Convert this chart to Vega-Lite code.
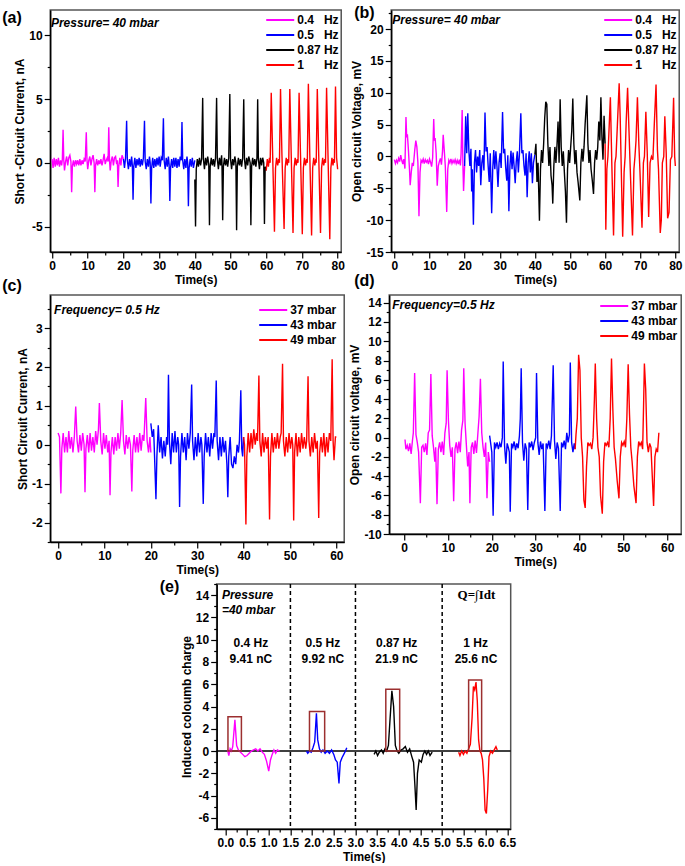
{
"$schema":"https://vega.github.io/schema/vega-lite/v6.json",
"padding":{"left":1,"top":4,"right":0,"bottom":0},
"background":"white",
"config":{
"font":"Liberation Sans",
"view":{"stroke":"#555555","strokeWidth":1.5},
"axis":{"labelFont":"Liberation Sans","labelFontSize":12,"labelFontWeight":"bold","labelColor":"black","titleFont":"Liberation Sans","titleFontSize":12,"titleFontWeight":"bold","titleColor":"black","domainColor":"black","domainWidth":1.5,"tickColor":"black","tickWidth":1.2,"grid":false,"labelPadding":2,"titlePadding":2,"labelFlush":false,"labelOverlap":false},
"legend":{"labelFont":"Liberation Sans","labelFontSize":12,"labelFontWeight":"bold","labelColor":"black","symbolType":"M-2,0H2","symbolStrokeWidth":2,"symbolSize":196,"rowPadding":1,"labelOffset":9,"padding":0},
"title":{"font":"Liberation Sans","fontSize":16,"fontWeight":"bold","color":"black","anchor":"start","frame":"group","offset":0,"baseline":"alphabetic"},
"text":{"font":"Liberation Sans","fontSize":12,"fontWeight":"bold","color":"black"}
},
"datasets":{
"a":[
{"t":0,"v":0.3,"s":"0.4"},{"t":0.3,"v":-0.4,"s":"0.4"},{"t":0.6,"v":0.4,"s":"0.4"},{"t":0.9,"v":-0.3,"s":"0.4"},{"t":1.2,"v":0.3,"s":"0.4"},{"t":1.5,"v":-0.2,"s":"0.4"},{"t":1.8,"v":0.4,"s":"0.4"},{"t":2.1,"v":-0.3,"s":"0.4"},{"t":2.4,"v":0.2,"s":"0.4"},{"t":2.7,"v":-0.2,"s":"0.4"},{"t":2.9,"v":0.3,"s":"0.4"},{"t":3.1,"v":2.6,"s":"0.4"},{"t":3.3,"v":0.2,"s":"0.4"},{"t":3.5,"v":-0.6,"s":"0.4"},{"t":3.8,"v":0.1,"s":"0.4"},{"t":4.1,"v":0.5,"s":"0.4"},{"t":4.4,"v":-0.2,"s":"0.4"},{"t":4.7,"v":0.4,"s":"0.4"},{"t":5.0,"v":0.6,"s":"0.4"},{"t":5.3,"v":0.1,"s":"0.4"},{"t":5.5,"v":-2.3,"s":"0.4"},{"t":5.7,"v":-0.3,"s":"0.4"},{"t":6.0,"v":0.2,"s":"0.4"},{"t":6.3,"v":-0.3,"s":"0.4"},{"t":6.6,"v":0.2,"s":"0.4"},{"t":6.9,"v":-0.1,"s":"0.4"},{"t":7.2,"v":0.2,"s":"0.4"},{"t":7.5,"v":-0.2,"s":"0.4"},{"t":7.8,"v":0.3,"s":"0.4"},{"t":8.1,"v":-0.2,"s":"0.4"},{"t":8.4,"v":0.2,"s":"0.4"},{"t":8.7,"v":-0.1,"s":"0.4"},{"t":9.0,"v":0.3,"s":"0.4"},{"t":9.3,"v":0.1,"s":"0.4"},{"t":9.6,"v":2.4,"s":"0.4"},{"t":9.8,"v":0.2,"s":"0.4"},{"t":10.0,"v":-0.5,"s":"0.4"},{"t":10.3,"v":0.2,"s":"0.4"},{"t":10.6,"v":0.5,"s":"0.4"},{"t":10.9,"v":-0.2,"s":"0.4"},{"t":11.2,"v":0.3,"s":"0.4"},{"t":11.5,"v":0.6,"s":"0.4"},{"t":11.8,"v":0.0,"s":"0.4"},{"t":12.0,"v":-2.3,"s":"0.4"},{"t":12.2,"v":-0.2,"s":"0.4"},{"t":12.5,"v":0.3,"s":"0.4"},{"t":12.8,"v":-0.2,"s":"0.4"},{"t":13.1,"v":0.2,"s":"0.4"},{"t":13.4,"v":-0.1,"s":"0.4"},{"t":13.7,"v":0.3,"s":"0.4"},{"t":14.0,"v":-0.2,"s":"0.4"},{"t":14.3,"v":0.2,"s":"0.4"},{"t":14.6,"v":0.7,"s":"0.4"},{"t":14.9,"v":-0.1,"s":"0.4"},{"t":15.2,"v":0.2,"s":"0.4"},{"t":15.5,"v":0.4,"s":"0.4"},{"t":15.7,"v":0.1,"s":"0.4"},{"t":15.9,"v":2.8,"s":"0.4"},{"t":16.1,"v":0.2,"s":"0.4"},{"t":16.3,"v":-0.6,"s":"0.4"},{"t":16.6,"v":0.2,"s":"0.4"},{"t":16.9,"v":0.5,"s":"0.4"},{"t":17.2,"v":-0.2,"s":"0.4"},{"t":17.5,"v":0.4,"s":"0.4"},{"t":17.8,"v":0.5,"s":"0.4"},{"t":18.1,"v":-0.1,"s":"0.4"},{"t":18.3,"v":0.2,"s":"0.4"},{"t":18.5,"v":-1.9,"s":"0.4"},{"t":18.7,"v":-0.3,"s":"0.4"},{"t":19.0,"v":0.4,"s":"0.4"},{"t":19.3,"v":-0.2,"s":"0.4"},{"t":19.6,"v":0.6,"s":"0.4"},{"t":20.0,"v":0.3,"s":"0.4"},
{"t":20.0,"v":0.3,"s":"0.5"},{"t":20.3,"v":-0.4,"s":"0.5"},{"t":20.6,"v":0.4,"s":"0.5"},{"t":20.9,"v":3.3,"s":"0.5"},{"t":21.1,"v":0.2,"s":"0.5"},{"t":21.4,"v":-0.5,"s":"0.5"},{"t":21.7,"v":0.3,"s":"0.5"},{"t":22.0,"v":-0.3,"s":"0.5"},{"t":22.3,"v":0.5,"s":"0.5"},{"t":22.5,"v":-0.2,"s":"0.5"},{"t":22.7,"v":-2.9,"s":"0.5"},{"t":22.9,"v":-0.3,"s":"0.5"},{"t":23.2,"v":0.4,"s":"0.5"},{"t":23.5,"v":-0.4,"s":"0.5"},{"t":23.8,"v":0.3,"s":"0.5"},{"t":24.1,"v":-0.2,"s":"0.5"},{"t":24.4,"v":0.4,"s":"0.5"},{"t":24.7,"v":-0.3,"s":"0.5"},{"t":25.0,"v":0.3,"s":"0.5"},{"t":25.3,"v":-0.2,"s":"0.5"},{"t":25.6,"v":0.4,"s":"0.5"},{"t":25.9,"v":3.3,"s":"0.5"},{"t":26.1,"v":0.1,"s":"0.5"},{"t":26.4,"v":-0.5,"s":"0.5"},{"t":26.7,"v":0.3,"s":"0.5"},{"t":27.0,"v":-0.3,"s":"0.5"},{"t":27.3,"v":0.5,"s":"0.5"},{"t":27.5,"v":0.0,"s":"0.5"},{"t":27.7,"v":-3.2,"s":"0.5"},{"t":27.9,"v":-0.4,"s":"0.5"},{"t":28.2,"v":0.4,"s":"0.5"},{"t":28.5,"v":-0.4,"s":"0.5"},{"t":28.8,"v":0.3,"s":"0.5"},{"t":29.1,"v":-0.3,"s":"0.5"},{"t":29.4,"v":0.4,"s":"0.5"},{"t":29.7,"v":-0.2,"s":"0.5"},{"t":30.0,"v":0.5,"s":"0.5"},{"t":30.3,"v":-0.3,"s":"0.5"},{"t":30.6,"v":0.4,"s":"0.5"},{"t":30.9,"v":0.2,"s":"0.5"},{"t":31.2,"v":3.5,"s":"0.5"},{"t":31.4,"v":0.2,"s":"0.5"},{"t":31.7,"v":-0.5,"s":"0.5"},{"t":32.0,"v":0.4,"s":"0.5"},{"t":32.3,"v":-0.3,"s":"0.5"},{"t":32.6,"v":0.5,"s":"0.5"},{"t":32.8,"v":-0.1,"s":"0.5"},{"t":33.0,"v":-3.0,"s":"0.5"},{"t":33.2,"v":-0.4,"s":"0.5"},{"t":33.5,"v":0.3,"s":"0.5"},{"t":33.8,"v":-0.4,"s":"0.5"},{"t":34.1,"v":0.4,"s":"0.5"},{"t":34.4,"v":-0.3,"s":"0.5"},{"t":34.7,"v":0.4,"s":"0.5"},{"t":35.0,"v":-0.4,"s":"0.5"},{"t":35.3,"v":0.3,"s":"0.5"},{"t":35.6,"v":-0.3,"s":"0.5"},{"t":35.9,"v":0.5,"s":"0.5"},{"t":36.2,"v":0.2,"s":"0.5"},{"t":36.4,"v":3.2,"s":"0.5"},{"t":36.6,"v":0.2,"s":"0.5"},{"t":36.9,"v":-0.5,"s":"0.5"},{"t":37.2,"v":0.3,"s":"0.5"},{"t":37.5,"v":-0.4,"s":"0.5"},{"t":37.8,"v":0.5,"s":"0.5"},{"t":38.0,"v":0.0,"s":"0.5"},{"t":38.2,"v":-3.4,"s":"0.5"},{"t":38.4,"v":-0.4,"s":"0.5"},{"t":38.7,"v":0.3,"s":"0.5"},{"t":39.0,"v":-0.3,"s":"0.5"},{"t":39.3,"v":0.4,"s":"0.5"},{"t":39.6,"v":-0.4,"s":"0.5"},{"t":40.0,"v":0.2,"s":"0.5"},
{"t":40.0,"v":-1.3,"s":"0.87"},{"t":40.2,"v":-5.0,"s":"0.87"},{"t":40.4,"v":-0.5,"s":"0.87"},{"t":40.7,"v":0.3,"s":"0.87"},{"t":41.0,"v":-0.3,"s":"0.87"},{"t":41.3,"v":0.4,"s":"0.87"},{"t":41.6,"v":-0.2,"s":"0.87"},{"t":41.9,"v":0.3,"s":"0.87"},{"t":42.2,"v":5.1,"s":"0.87"},{"t":42.4,"v":0.3,"s":"0.87"},{"t":42.7,"v":-0.5,"s":"0.87"},{"t":43.0,"v":0.4,"s":"0.87"},{"t":43.3,"v":-0.2,"s":"0.87"},{"t":43.6,"v":0.5,"s":"0.87"},{"t":43.9,"v":-0.1,"s":"0.87"},{"t":44.1,"v":-4.9,"s":"0.87"},{"t":44.3,"v":-0.3,"s":"0.87"},{"t":44.6,"v":0.4,"s":"0.87"},{"t":44.9,"v":-0.2,"s":"0.87"},{"t":45.2,"v":0.3,"s":"0.87"},{"t":45.5,"v":-0.3,"s":"0.87"},{"t":45.8,"v":0.4,"s":"0.87"},{"t":46.1,"v":5.1,"s":"0.87"},{"t":46.3,"v":0.3,"s":"0.87"},{"t":46.6,"v":-0.5,"s":"0.87"},{"t":46.9,"v":0.4,"s":"0.87"},{"t":47.2,"v":-0.2,"s":"0.87"},{"t":47.5,"v":0.6,"s":"0.87"},{"t":47.6,"v":0.0,"s":"0.87"},{"t":47.8,"v":-4.5,"s":"0.87"},{"t":48.0,"v":-0.3,"s":"0.87"},{"t":48.3,"v":0.4,"s":"0.87"},{"t":48.6,"v":-0.2,"s":"0.87"},{"t":48.9,"v":0.3,"s":"0.87"},{"t":49.2,"v":-0.3,"s":"0.87"},{"t":49.5,"v":0.4,"s":"0.87"},{"t":49.8,"v":5.4,"s":"0.87"},{"t":50.0,"v":0.3,"s":"0.87"},{"t":50.3,"v":-0.5,"s":"0.87"},{"t":50.6,"v":0.3,"s":"0.87"},{"t":50.9,"v":-0.2,"s":"0.87"},{"t":51.2,"v":0.5,"s":"0.87"},{"t":51.5,"v":0.0,"s":"0.87"},{"t":51.7,"v":-5.3,"s":"0.87"},{"t":51.9,"v":-0.3,"s":"0.87"},{"t":52.2,"v":0.4,"s":"0.87"},{"t":52.5,"v":-0.2,"s":"0.87"},{"t":52.8,"v":0.3,"s":"0.87"},{"t":53.1,"v":-0.3,"s":"0.87"},{"t":53.4,"v":0.4,"s":"0.87"},{"t":53.7,"v":5.0,"s":"0.87"},{"t":53.9,"v":0.3,"s":"0.87"},{"t":54.2,"v":-0.5,"s":"0.87"},{"t":54.5,"v":0.4,"s":"0.87"},{"t":54.8,"v":-0.2,"s":"0.87"},{"t":55.1,"v":0.5,"s":"0.87"},{"t":55.5,"v":0.0,"s":"0.87"},{"t":55.7,"v":-4.9,"s":"0.87"},{"t":55.9,"v":-0.3,"s":"0.87"},{"t":56.2,"v":0.4,"s":"0.87"},{"t":56.5,"v":-0.2,"s":"0.87"},{"t":56.8,"v":0.3,"s":"0.87"},{"t":57.1,"v":-0.3,"s":"0.87"},{"t":57.4,"v":0.4,"s":"0.87"},{"t":57.6,"v":5.0,"s":"0.87"},{"t":57.8,"v":0.3,"s":"0.87"},{"t":58.1,"v":-0.5,"s":"0.87"},{"t":58.4,"v":0.4,"s":"0.87"},{"t":58.7,"v":-0.2,"s":"0.87"},{"t":59.0,"v":0.4,"s":"0.87"},{"t":59.3,"v":0.0,"s":"0.87"},{"t":59.5,"v":-4.8,"s":"0.87"},{"t":59.7,"v":-0.3,"s":"0.87"},{"t":60.0,"v":-0.6,"s":"0.87"},
{"t":60.0,"v":-0.6,"s":"1"},{"t":60.3,"v":0.3,"s":"1"},{"t":60.6,"v":-0.3,"s":"1"},{"t":60.9,"v":0.4,"s":"1"},{"t":61.1,"v":0.0,"s":"1"},{"t":61.4,"v":5.5,"s":"1"},{"t":61.8,"v":0.6,"s":"1"},{"t":62.3,"v":-5.4,"s":"1"},{"t":62.6,"v":-0.4,"s":"1"},{"t":62.9,"v":0.4,"s":"1"},{"t":63.2,"v":-0.2,"s":"1"},{"t":63.5,"v":0.3,"s":"1"},{"t":63.7,"v":0.0,"s":"1"},{"t":64.0,"v":5.8,"s":"1"},{"t":64.4,"v":0.6,"s":"1"},{"t":65.0,"v":-5.2,"s":"1"},{"t":65.3,"v":-0.4,"s":"1"},{"t":65.6,"v":0.4,"s":"1"},{"t":65.9,"v":-0.2,"s":"1"},{"t":66.1,"v":0.3,"s":"1"},{"t":66.3,"v":0.0,"s":"1"},{"t":66.6,"v":5.8,"s":"1"},{"t":67.0,"v":0.6,"s":"1"},{"t":67.5,"v":-5.5,"s":"1"},{"t":67.8,"v":-0.4,"s":"1"},{"t":68.1,"v":0.4,"s":"1"},{"t":68.4,"v":-0.2,"s":"1"},{"t":68.7,"v":0.3,"s":"1"},{"t":68.9,"v":0.0,"s":"1"},{"t":69.2,"v":5.5,"s":"1"},{"t":69.6,"v":0.6,"s":"1"},{"t":70.1,"v":-5.6,"s":"1"},{"t":70.4,"v":-0.4,"s":"1"},{"t":70.7,"v":0.4,"s":"1"},{"t":71.0,"v":-0.2,"s":"1"},{"t":71.3,"v":0.3,"s":"1"},{"t":71.5,"v":0.0,"s":"1"},{"t":71.8,"v":6.2,"s":"1"},{"t":72.2,"v":0.6,"s":"1"},{"t":72.7,"v":-5.7,"s":"1"},{"t":73.0,"v":-0.4,"s":"1"},{"t":73.3,"v":0.4,"s":"1"},{"t":73.6,"v":-0.2,"s":"1"},{"t":73.9,"v":0.3,"s":"1"},{"t":74.0,"v":0.0,"s":"1"},{"t":74.3,"v":5.8,"s":"1"},{"t":74.7,"v":0.6,"s":"1"},{"t":75.2,"v":-5.5,"s":"1"},{"t":75.5,"v":-0.4,"s":"1"},{"t":75.8,"v":0.4,"s":"1"},{"t":76.1,"v":-0.2,"s":"1"},{"t":76.4,"v":0.3,"s":"1"},{"t":76.6,"v":0.0,"s":"1"},{"t":76.9,"v":5.9,"s":"1"},{"t":77.3,"v":0.6,"s":"1"},{"t":77.8,"v":-6.0,"s":"1"},{"t":78.1,"v":-0.4,"s":"1"},{"t":78.4,"v":0.4,"s":"1"},{"t":78.7,"v":-0.2,"s":"1"},{"t":78.9,"v":0.3,"s":"1"},{"t":79.1,"v":0.0,"s":"1"},{"t":79.4,"v":6.0,"s":"1"},{"t":79.7,"v":0.4,"s":"1"},{"t":80.0,"v":-0.5,"s":"1"}
],
"b":[
{"t":0,"v":-0.5,"s":"0.4"},{"t":0.3,"v":-1.1,"s":"0.4"},{"t":0.6,"v":-0.6,"s":"0.4"},{"t":0.9,"v":-1.0,"s":"0.4"},{"t":1.2,"v":-0.3,"s":"0.4"},{"t":1.5,"v":-0.8,"s":"0.4"},{"t":1.8,"v":0.2,"s":"0.4"},{"t":2.1,"v":-0.6,"s":"0.4"},{"t":2.4,"v":-1.2,"s":"0.4"},{"t":2.7,"v":-0.4,"s":"0.4"},{"t":3.0,"v":-1.9,"s":"0.4"},{"t":3.3,"v":6.2,"s":"0.4"},{"t":3.5,"v":3.0,"s":"0.4"},{"t":3.7,"v":3.5,"s":"0.4"},{"t":4.0,"v":1.0,"s":"0.4"},{"t":4.3,"v":-2.0,"s":"0.4"},{"t":4.5,"v":-4.5,"s":"0.4"},{"t":4.8,"v":-2.5,"s":"0.4"},{"t":5.1,"v":-1.0,"s":"0.4"},{"t":5.4,"v":-1.5,"s":"0.4"},{"t":5.8,"v":1.0,"s":"0.4"},{"t":6.1,"v":2.5,"s":"0.4"},{"t":6.4,"v":1.5,"s":"0.4"},{"t":6.7,"v":-1.0,"s":"0.4"},{"t":7.0,"v":-9.4,"s":"0.4"},{"t":7.3,"v":-2.5,"s":"0.4"},{"t":7.6,"v":-0.6,"s":"0.4"},{"t":7.9,"v":-0.9,"s":"0.4"},{"t":8.2,"v":-0.4,"s":"0.4"},{"t":8.5,"v":-1.1,"s":"0.4"},{"t":8.8,"v":-0.5,"s":"0.4"},{"t":9.1,"v":-0.9,"s":"0.4"},{"t":9.4,"v":-0.6,"s":"0.4"},{"t":9.7,"v":-1.2,"s":"0.4"},{"t":10.0,"v":-0.4,"s":"0.4"},{"t":10.3,"v":-0.9,"s":"0.4"},{"t":10.6,"v":-1.6,"s":"0.4"},{"t":10.9,"v":-0.2,"s":"0.4"},{"t":11.2,"v":5.9,"s":"0.4"},{"t":11.4,"v":2.5,"s":"0.4"},{"t":11.6,"v":2.9,"s":"0.4"},{"t":11.9,"v":0.5,"s":"0.4"},{"t":12.2,"v":-4.6,"s":"0.4"},{"t":12.5,"v":-1.5,"s":"0.4"},{"t":12.8,"v":-0.8,"s":"0.4"},{"t":13.1,"v":-0.3,"s":"0.4"},{"t":13.4,"v":-1.3,"s":"0.4"},{"t":13.7,"v":0.8,"s":"0.4"},{"t":13.9,"v":3.4,"s":"0.4"},{"t":14.2,"v":1.0,"s":"0.4"},{"t":14.5,"v":-1.5,"s":"0.4"},{"t":14.9,"v":-8.7,"s":"0.4"},{"t":15.2,"v":-2.0,"s":"0.4"},{"t":15.5,"v":-0.6,"s":"0.4"},{"t":15.8,"v":-1.0,"s":"0.4"},{"t":16.1,"v":-0.4,"s":"0.4"},{"t":16.4,"v":-1.1,"s":"0.4"},{"t":16.7,"v":-0.6,"s":"0.4"},{"t":17.0,"v":-1.0,"s":"0.4"},{"t":17.3,"v":-0.5,"s":"0.4"},{"t":17.6,"v":-1.1,"s":"0.4"},{"t":17.9,"v":-0.6,"s":"0.4"},{"t":18.2,"v":-1.2,"s":"0.4"},{"t":18.5,"v":-0.5,"s":"0.4"},{"t":18.8,"v":-1.4,"s":"0.4"},{"t":19.0,"v":0.5,"s":"0.4"},{"t":19.3,"v":7.3,"s":"0.4"},{"t":19.5,"v":-1.0,"s":"0.4"},{"t":19.7,"v":-5.4,"s":"0.4"},{"t":20.0,"v":-1.5,"s":"0.4"},
{"t":20.0,"v":-1.5,"s":"0.5"},{"t":20.3,"v":6.3,"s":"0.5"},{"t":20.6,"v":0.5,"s":"0.5"},{"t":20.9,"v":6.8,"s":"0.5"},{"t":21.2,"v":1.0,"s":"0.5"},{"t":21.5,"v":-1.5,"s":"0.5"},{"t":21.8,"v":1.2,"s":"0.5"},{"t":22.0,"v":-5.5,"s":"0.5"},{"t":22.2,"v":-2.0,"s":"0.5"},{"t":22.5,"v":-10.7,"s":"0.5"},{"t":22.8,"v":-1.0,"s":"0.5"},{"t":23.1,"v":1.0,"s":"0.5"},{"t":23.4,"v":-2.5,"s":"0.5"},{"t":23.7,"v":0.0,"s":"0.5"},{"t":24.0,"v":-1.5,"s":"0.5"},{"t":24.3,"v":1.0,"s":"0.5"},{"t":24.6,"v":-4.5,"s":"0.5"},{"t":24.9,"v":-1.0,"s":"0.5"},{"t":25.2,"v":0.2,"s":"0.5"},{"t":25.5,"v":-2.2,"s":"0.5"},{"t":25.8,"v":6.9,"s":"0.5"},{"t":26.1,"v":0.8,"s":"0.5"},{"t":26.4,"v":1.5,"s":"0.5"},{"t":26.7,"v":-1.5,"s":"0.5"},{"t":27.0,"v":-4.0,"s":"0.5"},{"t":27.3,"v":0.5,"s":"0.5"},{"t":27.7,"v":-8.9,"s":"0.5"},{"t":28.0,"v":-2.0,"s":"0.5"},{"t":28.3,"v":1.0,"s":"0.5"},{"t":28.6,"v":-2.0,"s":"0.5"},{"t":28.9,"v":0.8,"s":"0.5"},{"t":29.2,"v":-1.5,"s":"0.5"},{"t":29.5,"v":-4.8,"s":"0.5"},{"t":29.8,"v":-1.0,"s":"0.5"},{"t":30.1,"v":0.5,"s":"0.5"},{"t":30.4,"v":-1.8,"s":"0.5"},{"t":30.8,"v":7.0,"s":"0.5"},{"t":31.1,"v":0.5,"s":"0.5"},{"t":31.4,"v":1.2,"s":"0.5"},{"t":31.7,"v":-1.8,"s":"0.5"},{"t":32.0,"v":-3.8,"s":"0.5"},{"t":32.3,"v":0.2,"s":"0.5"},{"t":32.6,"v":-8.6,"s":"0.5"},{"t":32.9,"v":-1.5,"s":"0.5"},{"t":33.2,"v":0.9,"s":"0.5"},{"t":33.5,"v":-2.0,"s":"0.5"},{"t":33.8,"v":0.6,"s":"0.5"},{"t":34.1,"v":-1.6,"s":"0.5"},{"t":34.4,"v":-4.2,"s":"0.5"},{"t":34.7,"v":-0.8,"s":"0.5"},{"t":35.0,"v":0.8,"s":"0.5"},{"t":35.3,"v":-2.5,"s":"0.5"},{"t":35.6,"v":0.3,"s":"0.5"},{"t":36.0,"v":6.8,"s":"0.5"},{"t":36.3,"v":0.5,"s":"0.5"},{"t":36.6,"v":1.0,"s":"0.5"},{"t":36.9,"v":-1.5,"s":"0.5"},{"t":37.2,"v":-3.0,"s":"0.5"},{"t":37.5,"v":0.5,"s":"0.5"},{"t":37.8,"v":-6.4,"s":"0.5"},{"t":38.1,"v":-1.0,"s":"0.5"},{"t":38.4,"v":0.8,"s":"0.5"},{"t":38.7,"v":-2.5,"s":"0.5"},{"t":39.0,"v":0.5,"s":"0.5"},{"t":39.3,"v":-4.2,"s":"0.5"},{"t":39.6,"v":-1.0,"s":"0.5"},{"t":40.0,"v":0.3,"s":"0.5"},
{"t":40.0,"v":0.3,"s":"0.87"},{"t":40.3,"v":2.0,"s":"0.87"},{"t":40.6,"v":-4.0,"s":"0.87"},{"t":40.9,"v":-1.0,"s":"0.87"},{"t":41.3,"v":-10.1,"s":"0.87"},{"t":41.6,"v":-2.0,"s":"0.87"},{"t":41.9,"v":1.0,"s":"0.87"},{"t":42.2,"v":-1.0,"s":"0.87"},{"t":42.5,"v":2.0,"s":"0.87"},{"t":42.8,"v":6.0,"s":"0.87"},{"t":43.1,"v":8.6,"s":"0.87"},{"t":43.4,"v":8.2,"s":"0.87"},{"t":43.7,"v":2.0,"s":"0.87"},{"t":44.0,"v":-1.5,"s":"0.87"},{"t":44.3,"v":1.5,"s":"0.87"},{"t":44.6,"v":-3.0,"s":"0.87"},{"t":44.9,"v":-4.5,"s":"0.87"},{"t":45.1,"v":-7.4,"s":"0.87"},{"t":45.4,"v":-1.5,"s":"0.87"},{"t":45.7,"v":1.5,"s":"0.87"},{"t":46.0,"v":-1.0,"s":"0.87"},{"t":46.3,"v":1.8,"s":"0.87"},{"t":46.6,"v":5.5,"s":"0.87"},{"t":46.9,"v":-1.0,"s":"0.87"},{"t":47.2,"v":9.0,"s":"0.87"},{"t":47.5,"v":1.5,"s":"0.87"},{"t":47.8,"v":-1.5,"s":"0.87"},{"t":48.1,"v":0.8,"s":"0.87"},{"t":48.4,"v":-2.5,"s":"0.87"},{"t":48.7,"v":-5.5,"s":"0.87"},{"t":49.0,"v":-10.4,"s":"0.87"},{"t":49.3,"v":-2.0,"s":"0.87"},{"t":49.6,"v":1.0,"s":"0.87"},{"t":49.9,"v":-1.0,"s":"0.87"},{"t":50.2,"v":1.5,"s":"0.87"},{"t":50.5,"v":4.0,"s":"0.87"},{"t":50.8,"v":9.1,"s":"0.87"},{"t":51.1,"v":2.0,"s":"0.87"},{"t":51.4,"v":-1.2,"s":"0.87"},{"t":51.7,"v":1.0,"s":"0.87"},{"t":52.0,"v":-2.5,"s":"0.87"},{"t":52.3,"v":-4.0,"s":"0.87"},{"t":52.8,"v":-6.9,"s":"0.87"},{"t":53.1,"v":-1.0,"s":"0.87"},{"t":53.4,"v":1.2,"s":"0.87"},{"t":53.7,"v":-0.8,"s":"0.87"},{"t":54.0,"v":1.5,"s":"0.87"},{"t":54.3,"v":5.0,"s":"0.87"},{"t":54.8,"v":9.6,"s":"0.87"},{"t":55.1,"v":2.0,"s":"0.87"},{"t":55.4,"v":-1.0,"s":"0.87"},{"t":55.7,"v":1.0,"s":"0.87"},{"t":56.0,"v":-2.0,"s":"0.87"},{"t":56.3,"v":-3.5,"s":"0.87"},{"t":56.7,"v":-5.9,"s":"0.87"},{"t":57.0,"v":-1.0,"s":"0.87"},{"t":57.3,"v":1.0,"s":"0.87"},{"t":57.6,"v":-0.5,"s":"0.87"},{"t":57.9,"v":1.5,"s":"0.87"},{"t":58.2,"v":5.5,"s":"0.87"},{"t":58.5,"v":2.5,"s":"0.87"},{"t":58.8,"v":9.3,"s":"0.87"},{"t":59.1,"v":3.0,"s":"0.87"},{"t":59.4,"v":-0.5,"s":"0.87"},{"t":59.7,"v":6.4,"s":"0.87"},{"t":60.0,"v":2.0,"s":"0.87"},
{"t":60.0,"v":2.0,"s":"1"},{"t":60.2,"v":-11.5,"s":"1"},{"t":60.5,"v":-2.0,"s":"1"},{"t":60.8,"v":0.0,"s":"1"},{"t":61.5,"v":9.3,"s":"1"},{"t":61.9,"v":-1.0,"s":"1"},{"t":62.4,"v":-12.4,"s":"1"},{"t":62.8,"v":-1.0,"s":"1"},{"t":63.1,"v":0.0,"s":"1"},{"t":63.5,"v":5.0,"s":"1"},{"t":64.0,"v":11.5,"s":"1"},{"t":64.3,"v":6.0,"s":"1"},{"t":64.6,"v":-2.0,"s":"1"},{"t":65.0,"v":-12.6,"s":"1"},{"t":65.4,"v":-2.5,"s":"1"},{"t":65.7,"v":0.0,"s":"1"},{"t":66.0,"v":5.5,"s":"1"},{"t":66.4,"v":10.8,"s":"1"},{"t":66.8,"v":4.0,"s":"1"},{"t":67.1,"v":-1.0,"s":"1"},{"t":67.8,"v":-12.4,"s":"1"},{"t":68.2,"v":-2.0,"s":"1"},{"t":68.5,"v":0.0,"s":"1"},{"t":68.8,"v":2.5,"s":"1"},{"t":69.2,"v":9.3,"s":"1"},{"t":69.6,"v":2.0,"s":"1"},{"t":69.9,"v":-2.0,"s":"1"},{"t":70.5,"v":-11.2,"s":"1"},{"t":70.9,"v":-1.0,"s":"1"},{"t":71.2,"v":0.0,"s":"1"},{"t":71.6,"v":7.0,"s":"1"},{"t":72.0,"v":0.5,"s":"1"},{"t":72.4,"v":-9.5,"s":"1"},{"t":72.8,"v":-1.0,"s":"1"},{"t":73.2,"v":0.0,"s":"1"},{"t":73.6,"v":-0.5,"s":"1"},{"t":74.0,"v":5.0,"s":"1"},{"t":74.5,"v":11.3,"s":"1"},{"t":74.9,"v":1.0,"s":"1"},{"t":75.2,"v":-2.0,"s":"1"},{"t":75.7,"v":-12.0,"s":"1"},{"t":76.0,"v":-10.0,"s":"1"},{"t":76.3,"v":-1.0,"s":"1"},{"t":76.7,"v":0.0,"s":"1"},{"t":77.0,"v":6.3,"s":"1"},{"t":77.4,"v":0.5,"s":"1"},{"t":77.8,"v":-9.7,"s":"1"},{"t":78.2,"v":-8.8,"s":"1"},{"t":78.6,"v":-0.5,"s":"1"},{"t":79.0,"v":0.0,"s":"1"},{"t":79.5,"v":9.2,"s":"1"},{"t":79.8,"v":0.0,"s":"1"},{"t":80.0,"v":-1.5,"s":"1"}
],
"c":[
{"t":0,"v":0.3,"s":"37"},{"t":0.3,"v":0.2,"s":"37"},{"t":0.6,"v":-1.25,"s":"37"},{"t":0.8,"v":-0.1,"s":"37"},{"t":1.1,"v":0.3,"s":"37"},{"t":1.4,"v":-0.2,"s":"37"},{"t":1.7,"v":0.2,"s":"37"},{"t":2.0,"v":-0.2,"s":"37"},{"t":2.3,"v":0.35,"s":"37"},{"t":2.6,"v":-0.1,"s":"37"},{"t":2.9,"v":0.2,"s":"37"},{"t":3.2,"v":-0.2,"s":"37"},{"t":3.5,"v":0.2,"s":"37"},{"t":3.8,"v":0.98,"s":"37"},{"t":4.1,"v":0.1,"s":"37"},{"t":4.4,"v":-0.2,"s":"37"},{"t":4.7,"v":0.25,"s":"37"},{"t":5.0,"v":-0.15,"s":"37"},{"t":5.3,"v":0.3,"s":"37"},{"t":5.6,"v":0.0,"s":"37"},{"t":5.8,"v":-1.22,"s":"37"},{"t":6.0,"v":-0.1,"s":"37"},{"t":6.3,"v":0.25,"s":"37"},{"t":6.6,"v":-0.2,"s":"37"},{"t":6.9,"v":0.3,"s":"37"},{"t":7.2,"v":-0.15,"s":"37"},{"t":7.5,"v":0.2,"s":"37"},{"t":7.8,"v":-0.2,"s":"37"},{"t":8.1,"v":0.35,"s":"37"},{"t":8.4,"v":0.0,"s":"37"},{"t":8.7,"v":0.4,"s":"37"},{"t":8.9,"v":1.07,"s":"37"},{"t":9.2,"v":0.1,"s":"37"},{"t":9.5,"v":-0.25,"s":"37"},{"t":9.8,"v":0.3,"s":"37"},{"t":10.1,"v":-0.1,"s":"37"},{"t":10.4,"v":0.25,"s":"37"},{"t":10.7,"v":-0.2,"s":"37"},{"t":11.0,"v":0.1,"s":"37"},{"t":11.2,"v":-1.3,"s":"37"},{"t":11.4,"v":-0.2,"s":"37"},{"t":11.7,"v":0.2,"s":"37"},{"t":12.0,"v":-0.25,"s":"37"},{"t":12.3,"v":0.2,"s":"37"},{"t":12.6,"v":-0.15,"s":"37"},{"t":12.9,"v":0.3,"s":"37"},{"t":13.2,"v":-0.1,"s":"37"},{"t":13.5,"v":0.3,"s":"37"},{"t":13.8,"v":1.15,"s":"37"},{"t":14.1,"v":0.1,"s":"37"},{"t":14.4,"v":-0.25,"s":"37"},{"t":14.7,"v":0.25,"s":"37"},{"t":15.0,"v":-0.1,"s":"37"},{"t":15.3,"v":0.2,"s":"37"},{"t":15.6,"v":0.0,"s":"37"},{"t":15.9,"v":-1.2,"s":"37"},{"t":16.1,"v":-0.15,"s":"37"},{"t":16.4,"v":0.25,"s":"37"},{"t":16.7,"v":-0.2,"s":"37"},{"t":17.0,"v":0.2,"s":"37"},{"t":17.3,"v":-0.2,"s":"37"},{"t":17.6,"v":0.3,"s":"37"},{"t":17.9,"v":-0.15,"s":"37"},{"t":18.2,"v":0.25,"s":"37"},{"t":18.5,"v":0.1,"s":"37"},{"t":18.9,"v":1.2,"s":"37"},{"t":19.2,"v":0.1,"s":"37"},{"t":19.5,"v":-0.2,"s":"37"},{"t":19.8,"v":0.2,"s":"37"},{"t":20.0,"v":-0.2,"s":"37"},
{"t":20.0,"v":0.55,"s":"43"},{"t":20.3,"v":0.2,"s":"43"},{"t":20.6,"v":0.4,"s":"43"},{"t":20.8,"v":-0.3,"s":"43"},{"t":21.1,"v":-1.4,"s":"43"},{"t":21.3,"v":-0.3,"s":"43"},{"t":21.6,"v":0.5,"s":"43"},{"t":21.9,"v":-0.2,"s":"43"},{"t":22.2,"v":0.2,"s":"43"},{"t":22.5,"v":-0.35,"s":"43"},{"t":22.8,"v":0.1,"s":"43"},{"t":23.1,"v":-0.3,"s":"43"},{"t":23.4,"v":0.2,"s":"43"},{"t":23.6,"v":0.0,"s":"43"},{"t":23.8,"v":1.8,"s":"43"},{"t":24.0,"v":0.1,"s":"43"},{"t":24.3,"v":-0.5,"s":"43"},{"t":24.6,"v":0.3,"s":"43"},{"t":24.9,"v":-0.2,"s":"43"},{"t":25.2,"v":0.35,"s":"43"},{"t":25.5,"v":-0.2,"s":"43"},{"t":25.8,"v":0.2,"s":"43"},{"t":26.0,"v":0.0,"s":"43"},{"t":26.2,"v":-1.6,"s":"43"},{"t":26.4,"v":-0.3,"s":"43"},{"t":26.7,"v":0.3,"s":"43"},{"t":27.0,"v":-0.2,"s":"43"},{"t":27.3,"v":0.2,"s":"43"},{"t":27.6,"v":-0.4,"s":"43"},{"t":27.9,"v":0.3,"s":"43"},{"t":28.2,"v":-0.1,"s":"43"},{"t":28.5,"v":0.3,"s":"43"},{"t":28.8,"v":1.55,"s":"43"},{"t":29.0,"v":0.1,"s":"43"},{"t":29.3,"v":-0.4,"s":"43"},{"t":29.6,"v":0.2,"s":"43"},{"t":29.9,"v":-0.3,"s":"43"},{"t":30.2,"v":0.3,"s":"43"},{"t":30.5,"v":-0.2,"s":"43"},{"t":30.8,"v":0.2,"s":"43"},{"t":31.0,"v":0.0,"s":"43"},{"t":31.3,"v":-1.52,"s":"43"},{"t":31.5,"v":-0.3,"s":"43"},{"t":31.8,"v":0.3,"s":"43"},{"t":32.1,"v":-0.2,"s":"43"},{"t":32.4,"v":0.2,"s":"43"},{"t":32.7,"v":-0.3,"s":"43"},{"t":33.0,"v":0.3,"s":"43"},{"t":33.3,"v":-0.1,"s":"43"},{"t":33.6,"v":0.3,"s":"43"},{"t":33.8,"v":0.2,"s":"43"},{"t":34.1,"v":1.65,"s":"43"},{"t":34.3,"v":0.1,"s":"43"},{"t":34.6,"v":-0.4,"s":"43"},{"t":34.9,"v":0.2,"s":"43"},{"t":35.2,"v":-0.3,"s":"43"},{"t":35.5,"v":0.2,"s":"43"},{"t":35.8,"v":-0.2,"s":"43"},{"t":36.1,"v":0.1,"s":"43"},{"t":36.4,"v":-0.5,"s":"43"},{"t":36.6,"v":-1.35,"s":"43"},{"t":36.8,"v":-0.3,"s":"43"},{"t":37.1,"v":0.2,"s":"43"},{"t":37.4,"v":-0.5,"s":"43"},{"t":37.7,"v":-0.6,"s":"43"},{"t":38.0,"v":-0.3,"s":"43"},{"t":38.3,"v":-0.5,"s":"43"},{"t":38.6,"v":0.0,"s":"43"},{"t":38.9,"v":-0.2,"s":"43"},{"t":39.1,"v":0.1,"s":"43"},{"t":39.4,"v":1.4,"s":"43"},{"t":39.6,"v":-0.1,"s":"43"},{"t":39.8,"v":-0.3,"s":"43"},{"t":40.0,"v":0.2,"s":"43"},
{"t":40.0,"v":0.2,"s":"49"},{"t":40.2,"v":0.0,"s":"49"},{"t":40.5,"v":-2.05,"s":"49"},{"t":40.7,"v":-0.3,"s":"49"},{"t":41.0,"v":0.3,"s":"49"},{"t":41.3,"v":-0.2,"s":"49"},{"t":41.6,"v":0.3,"s":"49"},{"t":41.9,"v":-0.1,"s":"49"},{"t":42.2,"v":0.4,"s":"49"},{"t":42.5,"v":0.0,"s":"49"},{"t":42.8,"v":0.3,"s":"49"},{"t":43.0,"v":0.1,"s":"49"},{"t":43.3,"v":1.78,"s":"49"},{"t":43.5,"v":0.1,"s":"49"},{"t":43.8,"v":-0.3,"s":"49"},{"t":44.1,"v":0.3,"s":"49"},{"t":44.4,"v":-0.2,"s":"49"},{"t":44.7,"v":0.2,"s":"49"},{"t":45.0,"v":-0.1,"s":"49"},{"t":45.3,"v":0.2,"s":"49"},{"t":45.6,"v":-1.92,"s":"49"},{"t":45.8,"v":-0.3,"s":"49"},{"t":46.1,"v":0.3,"s":"49"},{"t":46.4,"v":-0.2,"s":"49"},{"t":46.7,"v":0.2,"s":"49"},{"t":47.0,"v":-0.1,"s":"49"},{"t":47.3,"v":0.3,"s":"49"},{"t":47.6,"v":-0.1,"s":"49"},{"t":47.9,"v":0.2,"s":"49"},{"t":48.1,"v":0.3,"s":"49"},{"t":48.4,"v":2.08,"s":"49"},{"t":48.6,"v":0.1,"s":"49"},{"t":48.9,"v":-0.3,"s":"49"},{"t":49.2,"v":0.2,"s":"49"},{"t":49.5,"v":-0.2,"s":"49"},{"t":49.8,"v":0.3,"s":"49"},{"t":50.1,"v":-0.1,"s":"49"},{"t":50.4,"v":0.2,"s":"49"},{"t":50.6,"v":0.0,"s":"49"},{"t":50.8,"v":-1.95,"s":"49"},{"t":51.0,"v":-0.2,"s":"49"},{"t":51.3,"v":0.3,"s":"49"},{"t":51.6,"v":-0.3,"s":"49"},{"t":51.9,"v":0.2,"s":"49"},{"t":52.2,"v":-0.2,"s":"49"},{"t":52.5,"v":0.3,"s":"49"},{"t":52.8,"v":-0.1,"s":"49"},{"t":53.1,"v":0.2,"s":"49"},{"t":53.4,"v":-0.1,"s":"49"},{"t":53.6,"v":0.1,"s":"49"},{"t":53.9,"v":1.76,"s":"49"},{"t":54.1,"v":0.1,"s":"49"},{"t":54.4,"v":-0.3,"s":"49"},{"t":54.7,"v":0.2,"s":"49"},{"t":55.0,"v":-0.2,"s":"49"},{"t":55.3,"v":0.3,"s":"49"},{"t":55.6,"v":-0.1,"s":"49"},{"t":55.9,"v":0.1,"s":"49"},{"t":56.2,"v":-1.88,"s":"49"},{"t":56.4,"v":-0.2,"s":"49"},{"t":56.7,"v":0.2,"s":"49"},{"t":57.0,"v":-0.2,"s":"49"},{"t":57.3,"v":0.3,"s":"49"},{"t":57.6,"v":-0.3,"s":"49"},{"t":57.9,"v":0.2,"s":"49"},{"t":58.2,"v":-0.2,"s":"49"},{"t":58.5,"v":0.3,"s":"49"},{"t":58.8,"v":0.1,"s":"49"},{"t":59.1,"v":2.2,"s":"49"},{"t":59.3,"v":0.1,"s":"49"},{"t":59.5,"v":-0.4,"s":"49"},{"t":59.8,"v":0.2,"s":"49"},{"t":60.0,"v":0.2,"s":"49"}
],
"d":[
{"t":0.2,"v":-0.2,"s":"37"},{"t":0.4,"v":-1.2,"s":"37"},{"t":0.7,"v":-0.8,"s":"37"},{"t":1.0,"v":-1.4,"s":"37"},{"t":1.3,"v":-0.6,"s":"37"},{"t":1.6,"v":-1.7,"s":"37"},{"t":1.9,"v":-0.3,"s":"37"},{"t":2.1,"v":0.5,"s":"37"},{"t":2.4,"v":6.7,"s":"37"},{"t":2.7,"v":0.3,"s":"37"},{"t":3.0,"v":-0.5,"s":"37"},{"t":3.3,"v":-1.5,"s":"37"},{"t":3.7,"v":-6.8,"s":"37"},{"t":4.0,"v":-1.0,"s":"37"},{"t":4.3,"v":-0.8,"s":"37"},{"t":4.6,"v":-1.5,"s":"37"},{"t":4.9,"v":-0.6,"s":"37"},{"t":5.2,"v":-1.8,"s":"37"},{"t":5.5,"v":0.5,"s":"37"},{"t":5.8,"v":0.8,"s":"37"},{"t":6.1,"v":6.6,"s":"37"},{"t":6.4,"v":0.2,"s":"37"},{"t":6.7,"v":-1.0,"s":"37"},{"t":7.0,"v":-2.5,"s":"37"},{"t":7.2,"v":-1.0,"s":"37"},{"t":7.5,"v":-6.9,"s":"37"},{"t":7.8,"v":-1.2,"s":"37"},{"t":8.1,"v":-0.5,"s":"37"},{"t":8.4,"v":-1.5,"s":"37"},{"t":8.7,"v":-0.4,"s":"37"},{"t":9.0,"v":-1.8,"s":"37"},{"t":9.3,"v":0.5,"s":"37"},{"t":9.6,"v":1.5,"s":"37"},{"t":9.8,"v":7.0,"s":"37"},{"t":10.1,"v":1.8,"s":"37"},{"t":10.4,"v":-0.8,"s":"37"},{"t":10.7,"v":-2.0,"s":"37"},{"t":11.0,"v":-1.0,"s":"37"},{"t":11.3,"v":-6.6,"s":"37"},{"t":11.6,"v":-1.2,"s":"37"},{"t":11.9,"v":-0.5,"s":"37"},{"t":12.2,"v":-1.6,"s":"37"},{"t":12.5,"v":-0.4,"s":"37"},{"t":12.8,"v":-1.5,"s":"37"},{"t":13.1,"v":0.8,"s":"37"},{"t":13.4,"v":1.8,"s":"37"},{"t":13.6,"v":7.2,"s":"37"},{"t":13.9,"v":1.5,"s":"37"},{"t":14.2,"v":-0.8,"s":"37"},{"t":14.5,"v":-3.0,"s":"37"},{"t":14.8,"v":-1.5,"s":"37"},{"t":15.0,"v":-6.8,"s":"37"},{"t":15.3,"v":-1.0,"s":"37"},{"t":15.6,"v":-0.5,"s":"37"},{"t":15.9,"v":-1.7,"s":"37"},{"t":16.2,"v":-0.3,"s":"37"},{"t":16.5,"v":-1.6,"s":"37"},{"t":16.8,"v":0.3,"s":"37"},{"t":17.1,"v":2.2,"s":"37"},{"t":17.4,"v":6.1,"s":"37"},{"t":17.7,"v":0.5,"s":"37"},{"t":18.0,"v":-1.0,"s":"37"},{"t":18.3,"v":-2.0,"s":"37"},{"t":18.6,"v":-0.5,"s":"37"},{"t":18.9,"v":-6.3,"s":"37"},{"t":19.2,"v":-1.5,"s":"37"},{"t":19.5,"v":-2.5,"s":"37"},
{"t":19.5,"v":0.2,"s":"43"},{"t":19.8,"v":-0.8,"s":"43"},{"t":20.0,"v":-1.5,"s":"43"},{"t":20.3,"v":-8.1,"s":"43"},{"t":20.6,"v":-0.5,"s":"43"},{"t":20.9,"v":-1.0,"s":"43"},{"t":21.2,"v":-0.5,"s":"43"},{"t":21.5,"v":-1.2,"s":"43"},{"t":21.8,"v":-0.6,"s":"43"},{"t":22.1,"v":-1.0,"s":"43"},{"t":22.4,"v":0.0,"s":"43"},{"t":22.6,"v":7.9,"s":"43"},{"t":22.9,"v":-0.8,"s":"43"},{"t":23.2,"v":-2.7,"s":"43"},{"t":23.5,"v":-0.6,"s":"43"},{"t":23.8,"v":-1.1,"s":"43"},{"t":24.0,"v":-1.5,"s":"43"},{"t":24.2,"v":-7.7,"s":"43"},{"t":24.5,"v":-0.6,"s":"43"},{"t":24.8,"v":-1.0,"s":"43"},{"t":25.1,"v":-0.4,"s":"43"},{"t":25.4,"v":-1.3,"s":"43"},{"t":25.7,"v":-0.6,"s":"43"},{"t":26.0,"v":-1.1,"s":"43"},{"t":26.3,"v":0.2,"s":"43"},{"t":26.5,"v":2.0,"s":"43"},{"t":26.7,"v":7.2,"s":"43"},{"t":27.0,"v":-0.5,"s":"43"},{"t":27.3,"v":-2.4,"s":"43"},{"t":27.6,"v":-0.6,"s":"43"},{"t":27.9,"v":-1.2,"s":"43"},{"t":28.2,"v":-7.5,"s":"43"},{"t":28.5,"v":-0.5,"s":"43"},{"t":28.8,"v":-1.0,"s":"43"},{"t":29.1,"v":-0.4,"s":"43"},{"t":29.4,"v":-1.3,"s":"43"},{"t":29.7,"v":-0.5,"s":"43"},{"t":30.0,"v":0.0,"s":"43"},{"t":30.2,"v":6.7,"s":"43"},{"t":30.5,"v":-0.5,"s":"43"},{"t":30.8,"v":-1.8,"s":"43"},{"t":31.1,"v":-0.4,"s":"43"},{"t":31.4,"v":-1.2,"s":"43"},{"t":31.7,"v":-0.6,"s":"43"},{"t":32.1,"v":-7.6,"s":"43"},{"t":32.4,"v":-0.6,"s":"43"},{"t":32.7,"v":-1.0,"s":"43"},{"t":33.0,"v":-0.3,"s":"43"},{"t":33.3,"v":-1.2,"s":"43"},{"t":33.6,"v":0.2,"s":"43"},{"t":34.0,"v":7.5,"s":"43"},{"t":34.3,"v":-0.3,"s":"43"},{"t":34.6,"v":-2.2,"s":"43"},{"t":34.9,"v":-0.5,"s":"43"},{"t":35.2,"v":-1.1,"s":"43"},{"t":35.6,"v":-7.6,"s":"43"},{"t":35.9,"v":-0.5,"s":"43"},{"t":36.2,"v":-1.0,"s":"43"},{"t":36.5,"v":-0.3,"s":"43"},{"t":36.8,"v":-1.2,"s":"43"},{"t":37.1,"v":0.5,"s":"43"},{"t":37.4,"v":-0.5,"s":"43"},{"t":37.7,"v":0.3,"s":"43"},{"t":37.9,"v":7.8,"s":"43"},{"t":38.2,"v":-0.5,"s":"43"},{"t":38.5,"v":-1.5,"s":"43"},{"t":38.8,"v":-0.6,"s":"43"},{"t":39.0,"v":-1.2,"s":"43"},
{"t":39.0,"v":-1.2,"s":"49"},{"t":39.2,"v":0.3,"s":"49"},{"t":39.5,"v":2.0,"s":"49"},{"t":39.8,"v":8.6,"s":"49"},{"t":40.1,"v":7.0,"s":"49"},{"t":40.4,"v":0.0,"s":"49"},{"t":40.7,"v":-2.0,"s":"49"},{"t":41.0,"v":-6.5,"s":"49"},{"t":41.3,"v":-7.3,"s":"49"},{"t":41.6,"v":-3.0,"s":"49"},{"t":41.9,"v":-0.5,"s":"49"},{"t":42.2,"v":-0.8,"s":"49"},{"t":42.5,"v":-0.6,"s":"49"},{"t":42.8,"v":-1.2,"s":"49"},{"t":43.1,"v":0.0,"s":"49"},{"t":43.4,"v":4.0,"s":"49"},{"t":43.6,"v":7.7,"s":"49"},{"t":43.9,"v":2.0,"s":"49"},{"t":44.2,"v":-1.0,"s":"49"},{"t":44.5,"v":-2.0,"s":"49"},{"t":44.8,"v":-6.0,"s":"49"},{"t":45.2,"v":-7.9,"s":"49"},{"t":45.5,"v":-2.5,"s":"49"},{"t":45.8,"v":-0.5,"s":"49"},{"t":46.1,"v":-0.8,"s":"49"},{"t":46.4,"v":-0.5,"s":"49"},{"t":46.7,"v":-1.0,"s":"49"},{"t":47.0,"v":2.0,"s":"49"},{"t":47.3,"v":8.2,"s":"49"},{"t":47.6,"v":3.0,"s":"49"},{"t":47.9,"v":-1.0,"s":"49"},{"t":48.2,"v":-2.2,"s":"49"},{"t":48.6,"v":-4.5,"s":"49"},{"t":49.0,"v":-6.3,"s":"49"},{"t":49.3,"v":-2.0,"s":"49"},{"t":49.6,"v":-0.5,"s":"49"},{"t":49.9,"v":-0.8,"s":"49"},{"t":50.2,"v":-0.4,"s":"49"},{"t":50.5,"v":-1.0,"s":"49"},{"t":50.8,"v":2.0,"s":"49"},{"t":51.1,"v":7.6,"s":"49"},{"t":51.4,"v":2.5,"s":"49"},{"t":51.7,"v":-1.0,"s":"49"},{"t":52.0,"v":-2.5,"s":"49"},{"t":52.4,"v":-5.0,"s":"49"},{"t":52.9,"v":-6.8,"s":"49"},{"t":53.2,"v":-2.0,"s":"49"},{"t":53.5,"v":-0.4,"s":"49"},{"t":53.8,"v":-0.8,"s":"49"},{"t":54.1,"v":-0.5,"s":"49"},{"t":54.4,"v":-1.2,"s":"49"},{"t":54.6,"v":3.0,"s":"49"},{"t":54.8,"v":7.7,"s":"49"},{"t":55.1,"v":5.0,"s":"49"},{"t":55.4,"v":-0.5,"s":"49"},{"t":55.7,"v":-1.5,"s":"49"},{"t":56.0,"v":-0.6,"s":"49"},{"t":56.3,"v":-1.0,"s":"49"},{"t":56.6,"v":-4.0,"s":"49"},{"t":56.9,"v":-7.1,"s":"49"},{"t":57.2,"v":-2.0,"s":"49"},{"t":57.5,"v":-1.2,"s":"49"},{"t":57.8,"v":-1.5,"s":"49"},{"t":58.1,"v":0.5,"s":"49"}
],
"e":[
{"t":0.05,"v":0.1,"s":"0.4"},{"t":0.08,"v":-0.4,"s":"0.4"},{"t":0.11,"v":0.2,"s":"0.4"},{"t":0.14,"v":0.0,"s":"0.4"},{"t":0.17,"v":0.4,"s":"0.4"},{"t":0.22,"v":2.8,"s":"0.4"},{"t":0.26,"v":0.5,"s":"0.4"},{"t":0.30,"v":0.1,"s":"0.4"},{"t":0.35,"v":-0.1,"s":"0.4"},{"t":0.40,"v":-0.3,"s":"0.4"},{"t":0.45,"v":-0.5,"s":"0.4"},{"t":0.50,"v":-0.4,"s":"0.4"},{"t":0.55,"v":-0.2,"s":"0.4"},{"t":0.60,"v":0.0,"s":"0.4"},{"t":0.65,"v":0.1,"s":"0.4"},{"t":0.70,"v":0.2,"s":"0.4"},{"t":0.75,"v":0.0,"s":"0.4"},{"t":0.80,"v":0.2,"s":"0.4"},{"t":0.85,"v":-0.1,"s":"0.4"},{"t":0.90,"v":-0.3,"s":"0.4"},{"t":0.95,"v":-0.9,"s":"0.4"},{"t":1.00,"v":-1.8,"s":"0.4"},{"t":1.04,"v":-0.8,"s":"0.4"},{"t":1.08,"v":-0.3,"s":"0.4"},{"t":1.12,"v":0.1,"s":"0.4"},{"t":1.16,"v":-0.2,"s":"0.4"},{"t":1.20,"v":0.1,"s":"0.4"},{"t":1.25,"v":0.0,"s":"0.4"},
{"t":1.87,"v":0.0,"s":"0.5"},{"t":1.90,"v":-0.2,"s":"0.5"},{"t":1.94,"v":0.0,"s":"0.5"},{"t":1.98,"v":-0.1,"s":"0.5"},{"t":2.02,"v":0.3,"s":"0.5"},{"t":2.06,"v":0.8,"s":"0.5"},{"t":2.10,"v":3.4,"s":"0.5"},{"t":2.13,"v":1.0,"s":"0.5"},{"t":2.17,"v":0.2,"s":"0.5"},{"t":2.21,"v":-0.1,"s":"0.5"},{"t":2.25,"v":0.1,"s":"0.5"},{"t":2.30,"v":-0.2,"s":"0.5"},{"t":2.35,"v":0.0,"s":"0.5"},{"t":2.40,"v":-0.2,"s":"0.5"},{"t":2.45,"v":0.1,"s":"0.5"},{"t":2.50,"v":-0.3,"s":"0.5"},{"t":2.54,"v":-0.8,"s":"0.5"},{"t":2.58,"v":-1.0,"s":"0.5"},{"t":2.62,"v":-2.9,"s":"0.5"},{"t":2.65,"v":-1.0,"s":"0.5"},{"t":2.69,"v":-0.6,"s":"0.5"},{"t":2.73,"v":-0.3,"s":"0.5"},{"t":2.77,"v":0.0,"s":"0.5"},{"t":2.80,"v":0.3,"s":"0.5"},
{"t":3.43,"v":-0.3,"s":"0.87"},{"t":3.47,"v":0.0,"s":"0.87"},{"t":3.51,"v":-0.4,"s":"0.87"},{"t":3.55,"v":-0.1,"s":"0.87"},{"t":3.60,"v":0.1,"s":"0.87"},{"t":3.64,"v":-0.2,"s":"0.87"},{"t":3.68,"v":0.2,"s":"0.87"},{"t":3.72,"v":0.0,"s":"0.87"},{"t":3.76,"v":0.5,"s":"0.87"},{"t":3.80,"v":3.0,"s":"0.87"},{"t":3.84,"v":5.4,"s":"0.87"},{"t":3.88,"v":4.0,"s":"0.87"},{"t":3.92,"v":0.5,"s":"0.87"},{"t":3.96,"v":0.0,"s":"0.87"},{"t":4.00,"v":-0.2,"s":"0.87"},{"t":4.05,"v":0.1,"s":"0.87"},{"t":4.10,"v":0.2,"s":"0.87"},{"t":4.15,"v":0.4,"s":"0.87"},{"t":4.20,"v":-0.1,"s":"0.87"},{"t":4.25,"v":0.2,"s":"0.87"},{"t":4.30,"v":-0.5,"s":"0.87"},{"t":4.34,"v":-1.0,"s":"0.87"},{"t":4.37,"v":-3.0,"s":"0.87"},{"t":4.40,"v":-5.3,"s":"0.87"},{"t":4.43,"v":-2.0,"s":"0.87"},{"t":4.47,"v":-0.8,"s":"0.87"},{"t":4.52,"v":-1.0,"s":"0.87"},{"t":4.56,"v":-0.3,"s":"0.87"},{"t":4.60,"v":0.0,"s":"0.87"},{"t":4.64,"v":-0.3,"s":"0.87"},{"t":4.68,"v":0.0,"s":"0.87"},{"t":4.72,"v":-0.4,"s":"0.87"},{"t":4.77,"v":-0.1,"s":"0.87"},
{"t":5.38,"v":-0.1,"s":"1"},{"t":5.41,"v":-0.4,"s":"1"},{"t":5.45,"v":0.0,"s":"1"},{"t":5.49,"v":-0.3,"s":"1"},{"t":5.53,"v":0.0,"s":"1"},{"t":5.57,"v":-0.2,"s":"1"},{"t":5.61,"v":0.2,"s":"1"},{"t":5.65,"v":0.6,"s":"1"},{"t":5.69,"v":3.0,"s":"1"},{"t":5.72,"v":5.8,"s":"1"},{"t":5.75,"v":5.5,"s":"1"},{"t":5.78,"v":6.2,"s":"1"},{"t":5.81,"v":4.5,"s":"1"},{"t":5.84,"v":1.0,"s":"1"},{"t":5.87,"v":0.0,"s":"1"},{"t":5.90,"v":-0.2,"s":"1"},{"t":5.93,"v":-0.8,"s":"1"},{"t":5.96,"v":-2.5,"s":"1"},{"t":5.99,"v":-5.3,"s":"1"},{"t":6.02,"v":-5.6,"s":"1"},{"t":6.05,"v":-3.5,"s":"1"},{"t":6.08,"v":-0.5,"s":"1"},{"t":6.12,"v":0.0,"s":"1"},{"t":6.16,"v":-0.2,"s":"1"},{"t":6.20,"v":0.1,"s":"1"},{"t":6.24,"v":0.4,"s":"1"},{"t":6.27,"v":0.1,"s":"1"}
],
"e_rect":[{"t":0.06,"t2":0.37,"v":0,"v2":3.08},{"t":1.94,"t2":2.29,"v":0,"v2":3.56},{"t":3.70,"t2":4.02,"v":0,"v2":5.56},{"t":5.61,"t2":5.91,"v":0,"v2":6.37}],
"e_text":[{"t":0.59,"v":9.74,"label":"0.4 Hz"},{"t":0.59,"v":8.25,"label":"9.41 nC"},{"t":2.25,"v":9.74,"label":"0.5 Hz"},{"t":2.25,"v":8.25,"label":"9.92 nC"},{"t":3.95,"v":9.74,"label":"0.87 Hz"},{"t":3.95,"v":8.25,"label":"21.9 nC"},{"t":5.77,"v":9.74,"label":"1 Hz"},{"t":5.78,"v":8.25,"label":"25.6 nC"}]
},
"vconcat":[
{"vconcat":[
{"hconcat":[
{"width":291,"height":242,
"title":{"text":"(a)","dx":-48,"dy":20},
"layer":[
{"data":{"name":"a"},"mark":{"type":"line","strokeWidth":1.4,"clip":true},
"encoding":{
"x":{"field":"t","type":"quantitative","scale":{"domain":[-0.5,81],"nice":false,"zero":false},"axis":{"title":"Time(s)","titlePadding":3,"tickCount":100,"labelOverlap":false,"values":[0,5,10,15,20,25,30,35,40,45,50,55,60,65,70,75,80],"labelExpr":"datum.value % 10 === 0 ? '' + datum.value : ''","tickSize":{"condition":{"test":"datum.value % 10 === 0","value":6},"value":3}}},
"y":{"field":"v","type":"quantitative","scale":{"domain":[-7,12],"nice":false,"zero":false},"axis":{"title":"Short -Circuit Current, nA","tickCount":100,"labelOverlap":false,"values":[-5,-2.5,0,2.5,5,7.5,10],"labelExpr":"datum.value % 5 === 0 ? '' + datum.value : ''","tickSize":{"condition":{"test":"datum.value % 5 === 0","value":6},"value":3}}},
"color":{"field":"s","type":"nominal","scale":{"domain":["0.4","0.5","0.87","1"],"range":["#ff00ff","#0000ff","#000000","#ff0000"]},"legend":{"title":null,"orient":"top-right","offset":2,"labelExpr":"datum.value=='0.4'?'0.4\u00a0\u00a0\u00a0Hz':datum.value=='0.5'?'0.5\u00a0\u00a0\u00a0Hz':datum.value=='0.87'?'0.87\u00a0Hz':'1\u00a0\u00a0\u00a0\u00a0\u00a0\u00a0Hz'"}}
}},
{"data":{"values":[{"t":-0.3,"v":11.0,"label":"Pressure= 40 mbar"}]},"mark":{"type":"text","align":"left","baseline":"middle","fontStyle":"italic","fontWeight":"bold","fontSize":12},
"encoding":{"x":{"field":"t","type":"quantitative"},"y":{"field":"v","type":"quantitative"},"text":{"field":"label"}}}
]},
{"width":288,"height":242,
"title":{"text":"(b)","dx":-37,"dy":18},
"layer":[
{"data":{"name":"b"},"mark":{"type":"line","strokeWidth":1.4,"clip":true},
"encoding":{
"x":{"field":"t","type":"quantitative","scale":{"domain":[-0.9,81.1],"nice":false,"zero":false},"axis":{"title":"Time(s)","titlePadding":3,"tickCount":100,"labelOverlap":false,"values":[0,5,10,15,20,25,30,35,40,45,50,55,60,65,70,75,80],"labelExpr":"datum.value % 10 === 0 ? '' + datum.value : ''","tickSize":{"condition":{"test":"datum.value % 10 === 0","value":6},"value":3}}},
"y":{"field":"v","type":"quantitative","scale":{"domain":[-15,23],"nice":false,"zero":false},"axis":{"title":"Open circuit Voltage, mV","tickCount":100,"labelOverlap":false,"values":[-15,-12.5,-10,-7.5,-5,-2.5,0,2.5,5,7.5,10,12.5,15,17.5,20,22.5],"labelExpr":"datum.value % 5 === 0 ? '' + datum.value : ''","tickSize":{"condition":{"test":"datum.value % 5 === 0","value":6},"value":3}}},
"color":{"field":"s","type":"nominal","scale":{"domain":["0.4","0.5","0.87","1"],"range":["#ff00ff","#0000ff","#000000","#ff0000"]},"legend":{"title":null,"orient":"top-right","offset":2,"labelExpr":"datum.value=='0.4'?'0.4\u00a0\u00a0\u00a0Hz':datum.value=='0.5'?'0.5\u00a0\u00a0\u00a0Hz':datum.value=='0.87'?'0.87\u00a0Hz':'1\u00a0\u00a0\u00a0\u00a0\u00a0\u00a0Hz'"}}
}},
{"data":{"values":[{"t":-0.6,"v":21.5,"label":"Pressure= 40 mbar"}]},"mark":{"type":"text","align":"left","baseline":"middle","fontStyle":"italic","fontWeight":"bold","fontSize":12},
"encoding":{"x":{"field":"t","type":"quantitative"},"y":{"field":"v","type":"quantitative"},"text":{"field":"label"}}}
]}
],"spacing":50,"bounds":"flush","resolve":{"scale":{"x":"independent","y":"independent","color":"independent"},"legend":{"color":"independent"}}},
{"hconcat":[
{"width":294,"height":247,
"title":{"text":"(c)","dx":-48,"dy":3},
"layer":[
{"data":{"name":"c"},"mark":{"type":"line","strokeWidth":1.4,"clip":true},
"encoding":{
"x":{"field":"t","type":"quantitative","scale":{"domain":[-1.7,61.7],"nice":false,"zero":false},"axis":{"title":"Time(s)","titlePadding":3,"tickCount":100,"labelOverlap":false,"values":[0,5,10,15,20,25,30,35,40,45,50,55,60],"labelExpr":"datum.value % 10 === 0 ? '' + datum.value : ''","tickSize":{"condition":{"test":"datum.value % 10 === 0","value":6},"value":3}}},
"y":{"field":"v","type":"quantitative","scale":{"domain":[-2.5,3.85],"nice":false,"zero":false},"axis":{"title":"Short Circuit Current, nA","tickCount":100,"labelOverlap":false,"values":[-2.5,-2,-1.5,-1,-0.5,0,0.5,1,1.5,2,2.5,3,3.5],"labelExpr":"datum.value % 1 === 0 ? '' + datum.value : ''","tickSize":{"condition":{"test":"datum.value % 1 === 0","value":6},"value":3}}},
"color":{"field":"s","type":"nominal","scale":{"domain":["37","43","49"],"range":["#ff00ff","#0000ff","#ff0000"]},"legend":{"title":null,"orient":"top-right","offset":7,"labelExpr":"datum.value + ' mbar'"}}
}},
{"data":{"values":[{"t":-0.86,"v":3.47,"label":"Frequency= 0.5 Hz"}]},"mark":{"type":"text","align":"left","baseline":"middle","fontStyle":"italic","fontWeight":"bold","fontSize":12},
"encoding":{"x":{"field":"t","type":"quantitative"},"y":{"field":"v","type":"quantitative"},"text":{"field":"label"}}}
]},
{"width":292,"height":239,
"title":{"text":"(d)","dx":-35,"dy":-2},
"layer":[
{"data":{"name":"d"},"mark":{"type":"line","strokeWidth":1.4,"clip":true},
"encoding":{
"x":{"field":"t","type":"quantitative","scale":{"domain":[-3.4,63.2],"nice":false,"zero":false},"axis":{"title":"Time(s)","titlePadding":3,"tickCount":100,"labelOverlap":false,"values":[0,5,10,15,20,25,30,35,40,45,50,55,60],"labelExpr":"datum.value % 10 === 0 ? '' + datum.value : ''","tickSize":{"condition":{"test":"datum.value % 10 === 0","value":6},"value":3}}},
"y":{"field":"v","type":"quantitative","scale":{"domain":[-10,14.8],"nice":false,"zero":false},"axis":{"title":"Open circuit voltage, mV","tickCount":100,"labelOverlap":false,"values":[-10,-9,-8,-7,-6,-5,-4,-3,-2,-1,0,1,2,3,4,5,6,7,8,9,10,11,12,13,14],"labelExpr":"datum.value % 2 === 0 ? '' + datum.value : ''","tickSize":{"condition":{"test":"datum.value % 2 === 0","value":6},"value":3}}},
"color":{"field":"s","type":"nominal","scale":{"domain":["37","43","49"],"range":["#ff00ff","#0000ff","#ff0000"]},"legend":{"title":null,"orient":"top-right","offset":3,"labelExpr":"datum.value + ' mbar'"}}
}},
{"data":{"values":[{"t":-2.7,"v":13.8,"label":"Frequency=0.5 Hz"}]},"mark":{"type":"text","align":"left","baseline":"middle","fontStyle":"italic","fontWeight":"bold","fontSize":12},
"encoding":{"x":{"field":"t","type":"quantitative"},"y":{"field":"v","type":"quantitative"},"text":{"field":"label"}}}
]}
],"spacing":45,"bounds":"flush","resolve":{"scale":{"x":"independent","y":"independent","color":"independent"},"legend":{"color":"independent"}}}
],"spacing":-14,"resolve":{"scale":{"x":"independent","y":"independent","color":"independent"},"legend":{"color":"independent"}}},
{"width":294,"height":245,
"title":{"text":"(e)","dx":-57,"dy":21},
"layer":[
{"data":{"values":[{"v":0}]},"mark":{"type":"rule","color":"black","strokeWidth":1.5},"encoding":{"y":{"field":"v","type":"quantitative"}}},
{"data":{"values":[{"t":1.5},{"t":3.0},{"t":5.0}]},"mark":{"type":"rule","color":"black","strokeWidth":1.5,"strokeDash":[4,3]},"encoding":{"x":{"field":"t","type":"quantitative"}}},
{"data":{"name":"e"},"mark":{"type":"line","strokeWidth":1.4,"clip":true},
"encoding":{
"x":{"field":"t","type":"quantitative","scale":{"domain":[-0.2,6.58],"nice":false,"zero":false},"axis":{"title":"Time(s)","titlePadding":3,"tickCount":100,"labelOverlap":false,"format":".1f","values":[0,0.25,0.5,0.75,1,1.25,1.5,1.75,2,2.25,2.5,2.75,3,3.25,3.5,3.75,4,4.25,4.5,4.75,5,5.25,5.5,5.75,6,6.25,6.5],"labelExpr":"datum.value % 0.5 === 0 ? datum.label : ''","tickSize":{"condition":{"test":"datum.value % 0.5 === 0","value":6},"value":3}}},
"y":{"field":"v","type":"quantitative","scale":{"domain":[-7,15],"nice":false,"zero":false},"axis":{"title":"Induced coloumb charge","tickCount":100,"labelOverlap":false,"values":[-7,-6,-5,-4,-3,-2,-1,0,1,2,3,4,5,6,7,8,9,10,11,12,13,14,15],"labelExpr":"datum.value % 2 === 0 ? '' + datum.value : ''","tickSize":{"condition":{"test":"datum.value % 2 === 0","value":6},"value":3}}},
"color":{"field":"s","type":"nominal","scale":{"domain":["0.4","0.5","0.87","1"],"range":["#ff00ff","#0000ff","#000000","#ff0000"]},"legend":null}
}},
{"data":{"name":"e_rect"},"mark":{"type":"rect","fill":null,"fillOpacity":0,"stroke":"#9c2f2f","strokeWidth":1.5},"encoding":{"x":{"field":"t","type":"quantitative"},"x2":{"field":"t2"},"y":{"field":"v","type":"quantitative"},"y2":{"field":"v2"}}},
{"data":{"name":"e_text"},"mark":{"type":"text","align":"center","baseline":"middle","fontSize":12},"encoding":{"x":{"field":"t","type":"quantitative"},"y":{"field":"v","type":"quantitative"},"text":{"field":"label"}}},
{"data":{"values":[{"t":-0.08,"v":14.0,"label":"Pressure"},{"t":-0.08,"v":12.65,"label":"=40 mbar"}]},"mark":{"type":"text","align":"left","baseline":"middle","fontStyle":"italic","fontSize":12},"encoding":{"x":{"field":"t","type":"quantitative"},"y":{"field":"v","type":"quantitative"},"text":{"field":"label"}}},
{"data":{"values":[{"t":5.79,"v":14.0,"label":"Q=∫Idt"}]},"mark":{"type":"text","align":"center","baseline":"middle","font":"Liberation Serif","fontSize":13},"encoding":{"x":{"field":"t","type":"quantitative"},"y":{"field":"v","type":"quantitative"},"text":{"field":"label"}}}
]}
],
"spacing":1,"center":true,
"resolve":{"scale":{"x":"independent","y":"independent","color":"independent"},"legend":{"color":"independent"}}
}
